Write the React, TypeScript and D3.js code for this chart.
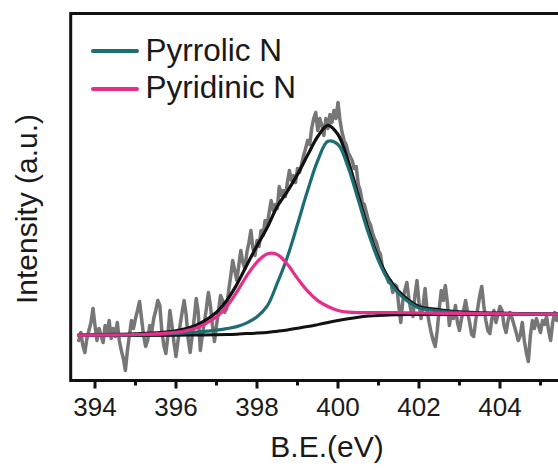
import React from 'react';
import * as d3 from 'd3';

const W = 558;
const H = 470;

// Raw XPS N1s spectrum, sampled every 0.05 eV from 393.6 eV
const RAW_START = 393.6;
const RAW_STEP = 0.05;
const rawIntensity = [
  40, 48, 35, 28, 42, 50, 58, 72, 55, 40,
  52, 45, 38, 55, 48, 60, 42, 52, 44, 58,
  40, 30, 22, 10, 30, 45, 60, 52, 62, 70,
  79, 62, 45, 34, 40, 55, 48, 62, 70, 80,
  75, 50, 35, 27, 45, 70, 55, 38, 24, 40,
  55, 68, 80, 66, 42, 28, 45, 62, 82, 68,
  30, 45, 58, 72, 88, 75, 55, 39, 55, 70,
  85, 80, 68, 72, 90, 104, 120, 110, 100, 115,
  130, 118, 112, 128, 138, 150, 132, 125, 140, 134,
  150, 145, 160, 155, 168, 180, 170, 176, 172, 194,
  185, 190, 184, 198, 210, 200, 205, 198, 212, 208,
  216, 225, 232, 240, 236, 252, 262, 268, 250, 262,
  255, 245, 262, 252, 266, 258, 270, 262, 278, 260,
  248, 240, 236, 228, 224, 220, 212, 214, 196, 190,
  178, 176, 168, 160, 156, 148, 142, 138, 130, 126,
  112, 108, 104, 98, 100, 88, 96, 94, 75, 58,
  80, 90, 98, 82, 70, 64, 85, 100, 78, 62,
  75, 92, 70, 58, 48, 40, 34, 50, 72, 90,
  80, 95, 78, 55, 68, 62, 75, 58, 50, 62,
  70, 80, 68, 58, 46, 44, 60, 72, 85, 94,
  75, 60, 50, 47, 62, 70, 58, 66, 74, 70,
  55, 48, 60, 68, 62, 55, 48, 40, 45, 58,
  40, 28, 19, 45, 60, 52, 62, 55, 48, 60,
  56, 64, 50, 40, 58, 68, 60, 64,
];

// Fitted curves
const fitEnergy = [393.6, 395, 396, 396.5, 397, 397.25, 397.5, 397.75, 398, 398.25, 398.5, 398.75, 399, 399.25, 399.5, 399.75, 400, 400.25, 400.5, 400.75, 401, 401.25, 401.5, 401.75, 402, 402.5, 403, 404, 405.5];
const background = [45.0, 45.1, 45.3, 45.5, 45.7, 45.9, 46.3, 46.9, 47.4, 48.1, 49.3, 50.6, 52.2, 53.9, 55.9, 58.0, 60.0, 61.8, 63.3, 64.4, 65.1, 65.6, 65.8, 65.9, 65.9, 66.0, 66.0, 66.0, 66.0];
const pyrrolicN = [45.3, 45.7, 46.9, 48.3, 50.3, 51.9, 53.9, 57.6, 63.7, 74.3, 97.3, 123.6, 156.2, 189.9, 220.0, 239.2, 236.0, 213.2, 180.6, 147.6, 119.9, 99.9, 87.0, 78.4, 72.4, 69.5, 67.8, 66.7, 66.3];
const pyridinicN = [45.4, 46.0, 48.1, 52.5, 63.7, 73.9, 88.3, 104.9, 118.4, 126.6, 126.0, 116.2, 102.1, 89.4, 79.9, 74.0, 70.0, 68.3, 67.8, 67.9, 67.9, 68.0, 67.9, 67.7, 67.5, 67.2, 66.9, 66.6, 66.4];
const envelope = [45.7, 46.6, 49.7, 55.3, 68.3, 79.9, 95.9, 115.6, 134.7, 152.8, 174.0, 189.2, 206.1, 225.4, 244.0, 255.2, 246.0, 219.7, 185.1, 151.1, 122.7, 102.3, 89.1, 80.2, 74.0, 70.7, 68.7, 67.3, 66.7];

const majorTicks = [394, 396, 398, 400, 402, 404];
const minorTicks = [395, 397, 399, 401, 403, 405];

const legendItems = [
  { label: 'Pyrrolic N', color: '#1f6d72' },
  { label: 'Pyridinic N', color: '#e62e8b' },
];

const FONT = '"Liberation Sans", Arial, Helvetica, sans-serif';

export default function App() {
  const left = 70.7;
  const right = 581;
  const top = 13.5;
  const bottom = 380.5;

  const x = d3.scaleLinear().domain([393.4, 406.0]).range([left, right]);
  const y = d3.scaleLinear().domain([0, 367]).range([bottom, top]);

  const rawLine = d3
    .line<number>()
    .x((_, i) => x(RAW_START + i * RAW_STEP))
    .y((d) => y(d))
    .curve(d3.curveLinear);

  const fitLine = (vals: number[]) =>
    d3
      .line<number>()
      .x((_, i) => x(fitEnergy[i]))
      .y((d) => y(d))
      .curve(d3.curveCatmullRom.alpha(0.5))(vals) as string;

  return (
    <svg
      width={W}
      height={H}
      style={{ position: 'absolute', left: 0, top: 0, background: '#fff' }}
      fontFamily={FONT}
    >
      <defs>
        <clipPath id="plotClip">
          <rect x={left} y={top} width={right - left} height={bottom - top} />
        </clipPath>
      </defs>
      <rect x={0} y={0} width={W} height={H} fill="#fff" />

      <g clipPath="url(#plotClip)" fill="none" strokeLinejoin="round" strokeLinecap="round">
        <path d={rawLine(rawIntensity) as string} stroke="#767676" strokeWidth={3.5} />
        <path d={fitLine(background)} stroke="#111" strokeWidth={3} />
        <path d={fitLine(envelope)} stroke="#111" strokeWidth={3.2} />
        <path d={fitLine(pyrrolicN)} stroke={legendItems[0].color} strokeWidth={3.2} />
        <path d={fitLine(pyridinicN)} stroke={legendItems[1].color} strokeWidth={3.2} />
      </g>

      {/* frame */}
      <rect x={left} y={top} width={right - left} height={bottom - top} fill="none" stroke="#111" strokeWidth={3} />

      {/* ticks */}
      <g stroke="#111" strokeWidth={3}>
        {majorTicks.map((t) => (
          <line key={'M' + t} x1={x(t)} x2={x(t)} y1={bottom} y2={bottom + 8} />
        ))}
        {minorTicks.map((t) => (
          <line key={'m' + t} x1={x(t)} x2={x(t)} y1={bottom} y2={bottom + 5} />
        ))}
      </g>
      <g fontSize={26} fill="#1a1a1a" textAnchor="middle">
        {majorTicks.map((t) => (
          <text key={'L' + t} x={x(t)} y={416}>
            {t}
          </text>
        ))}
      </g>

      {/* axis titles */}
      <text x={327} y={457} fontSize={30} textAnchor="middle" fill="#1a1a1a">
        B.E.(eV)
      </text>
      <text
        transform={`translate(37, 209) rotate(-90)`}
        fontSize={30}
        textAnchor="middle"
        fill="#1a1a1a"
      >
        Intensity (a.u.)
      </text>

      {/* legend */}
      {legendItems.map((item, i) => (
        <g key={item.label}>
          <line
            x1={93}
            x2={137}
            y1={51 + i * 38}
            y2={51 + i * 38}
            stroke={item.color}
            strokeWidth={4}
            strokeLinecap="round"
          />
          <text x={145.5} y={60.5 + i * 37.5} fontSize={31.5} fill="#1a1a1a">
            {item.label}
          </text>
        </g>
      ))}
    </svg>
  );
}
